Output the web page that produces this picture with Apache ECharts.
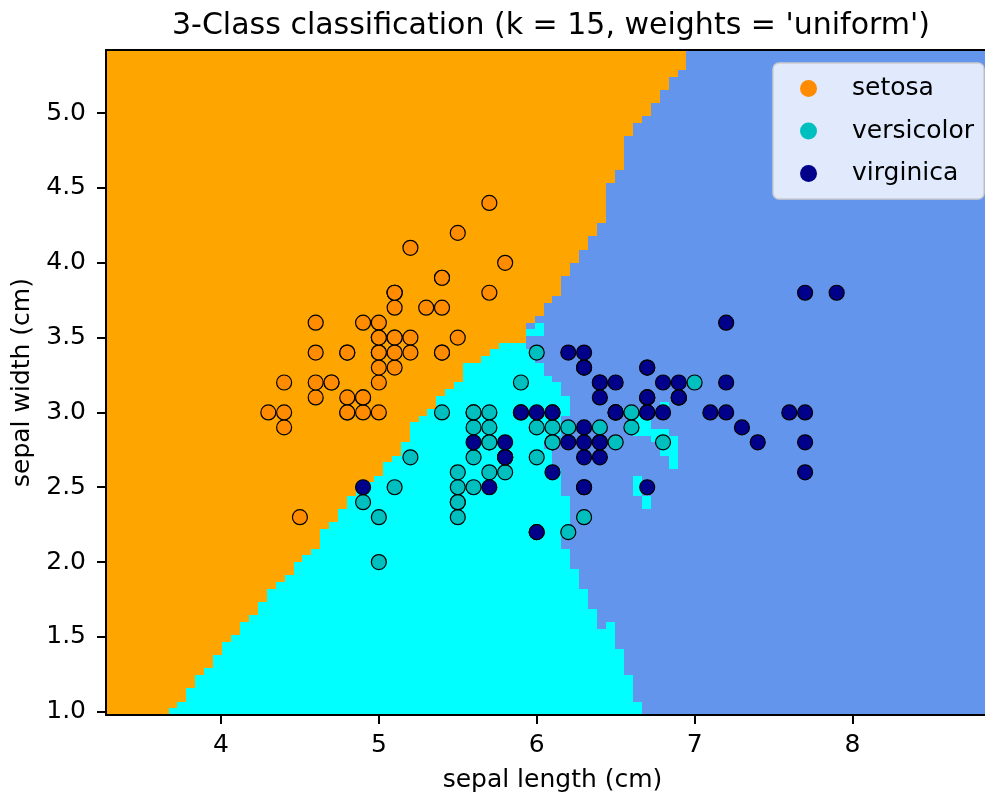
<!DOCTYPE html>
<html>
<head>
<meta charset="utf-8">
<script src="https://cdn.jsdelivr.net/npm/echarts@6/dist/echarts.min.js"></script>
<style>
  html, body { margin: 0; padding: 0; background: #fff; }
  #chart { width: 985px; height: 793px; }
</style>
</head>
<body>
<div id="chart"></div>
<script>
// iris: sepal length, sepal width
const setosa = [
  [5.1,3.5],[4.9,3.0],[4.7,3.2],[4.6,3.1],[5.0,3.6],[5.4,3.9],[4.6,3.4],[5.0,3.4],[4.4,2.9],[4.9,3.1],
  [5.4,3.7],[4.8,3.4],[4.8,3.0],[4.3,3.0],[5.8,4.0],[5.7,4.4],[5.4,3.9],[5.1,3.5],[5.7,3.8],[5.1,3.8],
  [5.4,3.4],[5.1,3.7],[4.6,3.6],[5.1,3.3],[4.8,3.4],[5.0,3.0],[5.0,3.4],[5.2,3.5],[5.2,3.4],[4.7,3.2],
  [4.8,3.1],[5.4,3.4],[5.2,4.1],[5.5,4.2],[4.9,3.1],[5.0,3.2],[5.5,3.5],[4.9,3.6],[4.4,3.0],[5.1,3.4],
  [5.0,3.5],[4.5,2.3],[4.4,3.2],[5.0,3.5],[5.1,3.8],[4.8,3.0],[5.1,3.8],[4.6,3.2],[5.3,3.7],[5.0,3.3]
];
const versicolor = [
  [7.0,3.2],[6.4,3.2],[6.9,3.1],[5.5,2.3],[6.5,2.8],[5.7,2.8],[6.3,3.3],[4.9,2.4],[6.6,2.9],[5.2,2.7],
  [5.0,2.0],[5.9,3.0],[6.0,2.2],[6.1,2.9],[5.6,2.9],[6.7,3.1],[5.6,3.0],[5.8,2.7],[6.2,2.2],[5.6,2.5],
  [5.9,3.2],[6.1,2.8],[6.3,2.5],[6.1,2.8],[6.4,2.9],[6.6,3.0],[6.8,2.8],[6.7,3.0],[6.0,2.9],[5.7,2.6],
  [5.5,2.4],[5.5,2.4],[5.8,2.7],[6.0,2.7],[5.4,3.0],[6.0,3.4],[6.7,3.1],[6.3,2.3],[5.6,3.0],[5.5,2.5],
  [5.5,2.6],[6.1,3.0],[5.8,2.6],[5.0,2.3],[5.6,2.7],[5.7,3.0],[5.7,2.9],[6.2,2.9],[5.1,2.5],[5.7,2.8]
];
const virginica = [
  [6.3,3.3],[5.8,2.7],[7.1,3.0],[6.3,2.9],[6.5,3.0],[7.6,3.0],[4.9,2.5],[7.3,2.9],[6.7,2.5],[7.2,3.6],
  [6.5,3.2],[6.4,2.7],[6.8,3.0],[5.7,2.5],[5.8,2.8],[6.4,3.2],[6.5,3.0],[7.7,3.8],[7.7,2.6],[6.0,2.2],
  [6.9,3.2],[5.6,2.8],[7.7,2.8],[6.3,2.7],[6.7,3.3],[7.2,3.2],[6.2,2.8],[6.1,3.0],[6.4,2.8],[7.2,3.0],
  [7.4,2.8],[7.9,3.8],[6.4,2.8],[6.3,2.8],[6.1,2.6],[7.7,3.0],[6.3,3.4],[6.4,3.1],[6.0,3.0],[6.9,3.1],
  [6.7,3.1],[6.9,3.1],[5.8,2.7],[6.8,3.2],[6.7,3.3],[6.7,3.0],[6.3,2.5],[6.5,3.0],[6.2,3.4],[5.9,3.0]
];
const classNames = ['setosa', 'versicolor', 'virginica'];
const pointColors = ['#ff8c00', '#00bfbf', '#00008b'];
const regionColors = ['#ffa500', '#00ffff', '#6495ed'];
const xTicks = [4, 5, 6, 7, 8];
const yTicks = [1.0, 1.5, 2.0, 2.5, 3.0, 3.5, 4.0, 4.5, 5.0];
const nNeighbors = 15;
const gridRes = 100;

const font = 'DejaVu Sans';
const classes = [setosa, versicolor, virginica];
const train = [];
classes.forEach((pts, c) => pts.forEach(p => train.push([p[0], p[1], c])));

// decision surface: grid like DecisionBoundaryDisplay (eps = 1, 100 x 100)
const xs = train.map(p => p[0]), ys = train.map(p => p[1]);
const xMin = Math.min(...xs) - 1, xMax = Math.max(...xs) + 1;
const yMin = Math.min(...ys) - 1, yMax = Math.max(...ys) + 1;
const dx = (xMax - xMin) / (gridRes - 1), dy = (yMax - yMin) / (gridRes - 1);

function predict(x, y) {
  const d = train.map((p, i) => [(p[0] - x) ** 2 + (p[1] - y) ** 2, i]);
  d.sort((a, b) => a[0] - b[0] || a[1] - b[1]);
  const votes = [0, 0, 0];
  for (let i = 0; i < nNeighbors; i++) votes[train[d[i][1]][2]]++;
  let best = 0;
  for (let c = 1; c < 3; c++) if (votes[c] > votes[best]) best = c;
  return best;
}

// merge horizontal runs of equal class per row
const regionRuns = [];
for (let r = 0; r < gridRes; r++) {
  const y = yMin + r * dy;
  let start = 0, cur = predict(xMin, y);
  for (let c = 1; c <= gridRes; c++) {
    const cls = c < gridRes ? predict(xMin + c * dx, y) : -1;
    if (cls !== cur) {
      regionRuns.push([xMin + start * dx, xMin + (c - 1) * dx, y, cur]);
      start = c; cur = cls;
    }
  }
}

const chart = echarts.init(document.getElementById('chart'));

const axisCommon = {
  type: 'value',
  z: 10,
  splitLine: { show: false },
  axisLine: { show: true, onZero: false, lineStyle: { color: '#000', width: 2 } },
  axisTick: { show: true, length: 9, lineStyle: { color: '#000', width: 2 } },
  axisLabel: { color: '#000', fontFamily: font, fontSize: 25 },
  nameTextStyle: { color: '#000', fontFamily: font, fontSize: 25 },
  nameLocation: 'middle'
};

chart.setOption({
  animation: false,
  backgroundColor: '#fff',
  title: {
    text: "3-Class classification (k = 15, weights = 'uniform')",
    left: 546,
    top: 6,
    textAlign: 'center',
    textStyle: { fontFamily: font, fontSize: 30, fontWeight: 'normal', color: '#000' }
  },
  // plot area runs past the right edge of the picture, as in the reference
  grid: { left: 106, top: 50, width: 893, height: 665, outerBoundsMode: 'none', containLabel: false },
  legend: {
    orient: 'vertical',
    right: 1,
    top: 63,
    selectedMode: false,
    data: classNames,
    icon: 'circle',
    itemWidth: 17,
    itemHeight: 17,
    itemGap: 17.5,
    itemStyle: { borderWidth: 0 },
    padding: [13, 10, 13, 27],
    backgroundColor: 'rgba(255,255,255,0.8)',
    borderColor: '#cccccc',
    borderWidth: 1.5,
    borderRadius: 6,
    textStyle: { fontFamily: font, fontSize: 25, color: '#000', lineHeight: 20, padding: [0, 0, 0, 30] }
  },
  xAxis: [
    Object.assign({}, axisCommon, {
      position: 'bottom',
      min: xMin - dx / 2,
      max: xMax + dx / 2,
      name: 'sepal length (cm)',
      nameGap: 53,
      axisTick: Object.assign({}, axisCommon.axisTick, { customValues: xTicks }),
      axisLabel: Object.assign({}, axisCommon.axisLabel, { customValues: xTicks, margin: 18 })
    }),
    {
      type: 'value', position: 'top', z: 10,
      min: xMin - dx / 2, max: xMax + dx / 2,
      axisLine: { show: true, onZero: false, lineStyle: { color: '#000', width: 2 } },
      axisTick: { show: false }, axisLabel: { show: false }, splitLine: { show: false }
    }
  ],
  yAxis: [
    Object.assign({}, axisCommon, {
      position: 'left',
      min: yMin - dy / 2,
      max: yMax + dy / 2,
      name: 'sepal width (cm)',
      nameGap: 64,
      axisTick: Object.assign({}, axisCommon.axisTick, { customValues: yTicks }),
      axisLabel: Object.assign({}, axisCommon.axisLabel, {
        customValues: yTicks, margin: 20, formatter: v => v.toFixed(1)
      })
    })
  ],
  series: [
    {
      type: 'custom',
      silent: true,
      xAxisIndex: 0,
      yAxisIndex: 0,
      encode: { x: [0, 1], y: 2 },
      data: regionRuns,
      renderItem: (params, api) => {
        const p0 = api.coord([api.value(0) - dx / 2, api.value(2) + dy / 2]);
        const p1 = api.coord([api.value(1) + dx / 2, api.value(2) - dy / 2]);
        const l = Math.round(p0[0]), r = Math.round(p1[0]);
        const t = Math.round(p0[1]), b = Math.round(p1[1]);
        return {
          type: 'rect',
          shape: { x: l, y: t, width: r - l, height: b - t },
          style: { fill: regionColors[api.value(3)] }
        };
      }
    },
    ...classes.map((pts, c) => ({
      name: classNames[c],
      type: 'scatter',
      xAxisIndex: 0,
      yAxisIndex: 0,
      data: pts,
      symbolSize: 15,
      itemStyle: { color: pointColors[c], borderColor: '#000', borderWidth: 1.2, opacity: 1 }
    }))
  ]
});
</script>
</body>
</html>
